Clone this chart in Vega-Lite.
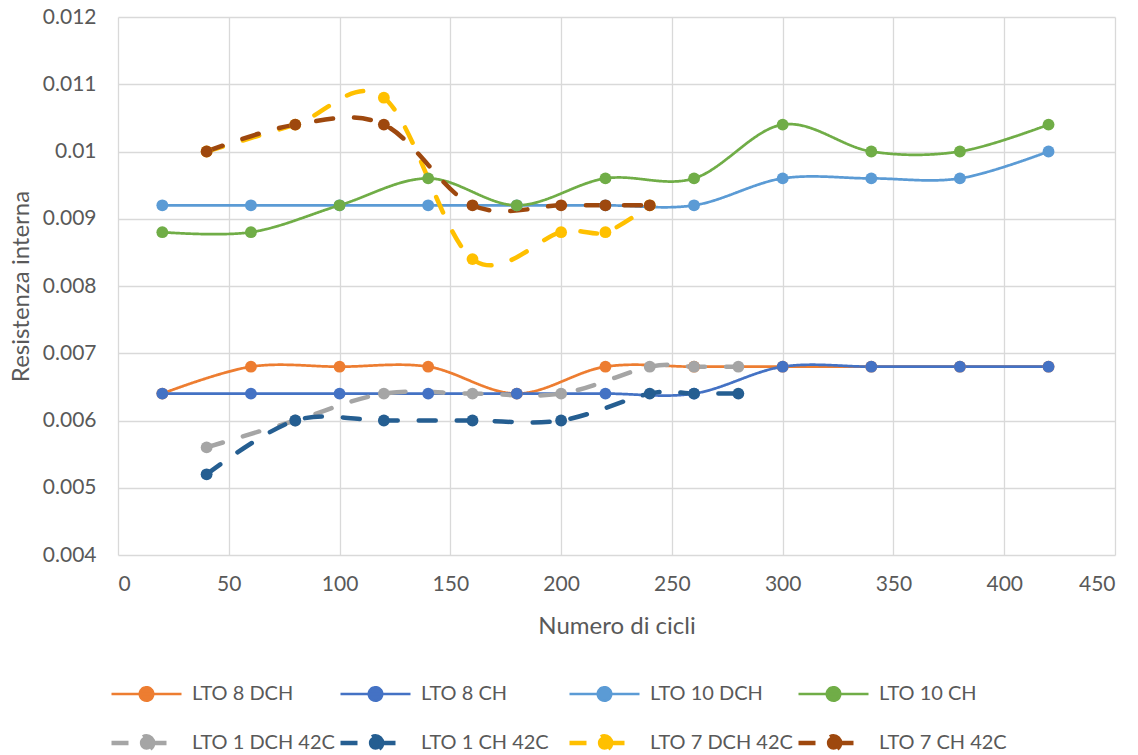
{
  "$schema": "https://vega.github.io/schema/vega-lite/v6.json",
  "autosize": "none",
  "width": 997,
  "height": 538,
  "padding": {"left": 118, "top": 17, "right": 23, "bottom": 200},
  "background": "white",
  "config": {
    "view": {"stroke": null},
    "font": "Lato",
    "axis": {
      "labelFont": "Lato",
      "titleFont": "Lato",
      "labelColor": "#595959",
      "titleColor": "#595959",
      "labelFontSize": 21,
      "titleFontSize": 24,
      "titleFontWeight": "normal",
      "gridColor": "#D9D9D9",
      "gridWidth": 1.3,
      "domain": false,
      "ticks": false,
      "labelPadding": 18
    },
    "legend": {
      "labelFont": "Lato",
      "labelFontSize": 20,
      "labelColor": "#595959"
    }
  },
  "data": {
    "values": [
      {"series": "LTO 8 DCH", "cicli": 20, "resistenza": 0.0064},
      {"series": "LTO 8 DCH", "cicli": 60, "resistenza": 0.0068},
      {"series": "LTO 8 DCH", "cicli": 100, "resistenza": 0.0068},
      {"series": "LTO 8 DCH", "cicli": 140, "resistenza": 0.0068},
      {"series": "LTO 8 DCH", "cicli": 180, "resistenza": 0.0064},
      {"series": "LTO 8 DCH", "cicli": 220, "resistenza": 0.0068},
      {"series": "LTO 8 DCH", "cicli": 260, "resistenza": 0.0068},
      {"series": "LTO 8 DCH", "cicli": 300, "resistenza": 0.0068},
      {"series": "LTO 8 DCH", "cicli": 340, "resistenza": 0.0068},
      {"series": "LTO 8 DCH", "cicli": 380, "resistenza": 0.0068},
      {"series": "LTO 8 DCH", "cicli": 420, "resistenza": 0.0068},

      {"series": "LTO 8 CH", "cicli": 20, "resistenza": 0.0064},
      {"series": "LTO 8 CH", "cicli": 60, "resistenza": 0.0064},
      {"series": "LTO 8 CH", "cicli": 100, "resistenza": 0.0064},
      {"series": "LTO 8 CH", "cicli": 140, "resistenza": 0.0064},
      {"series": "LTO 8 CH", "cicli": 180, "resistenza": 0.0064},
      {"series": "LTO 8 CH", "cicli": 220, "resistenza": 0.0064},
      {"series": "LTO 8 CH", "cicli": 260, "resistenza": 0.0064},
      {"series": "LTO 8 CH", "cicli": 300, "resistenza": 0.0068},
      {"series": "LTO 8 CH", "cicli": 340, "resistenza": 0.0068},
      {"series": "LTO 8 CH", "cicli": 380, "resistenza": 0.0068},
      {"series": "LTO 8 CH", "cicli": 420, "resistenza": 0.0068},

      {"series": "LTO 10 DCH", "cicli": 20, "resistenza": 0.0092},
      {"series": "LTO 10 DCH", "cicli": 60, "resistenza": 0.0092},
      {"series": "LTO 10 DCH", "cicli": 100, "resistenza": 0.0092},
      {"series": "LTO 10 DCH", "cicli": 140, "resistenza": 0.0092},
      {"series": "LTO 10 DCH", "cicli": 180, "resistenza": 0.0092},
      {"series": "LTO 10 DCH", "cicli": 220, "resistenza": 0.0092},
      {"series": "LTO 10 DCH", "cicli": 260, "resistenza": 0.0092},
      {"series": "LTO 10 DCH", "cicli": 300, "resistenza": 0.0096},
      {"series": "LTO 10 DCH", "cicli": 340, "resistenza": 0.0096},
      {"series": "LTO 10 DCH", "cicli": 380, "resistenza": 0.0096},
      {"series": "LTO 10 DCH", "cicli": 420, "resistenza": 0.0100},

      {"series": "LTO 10 CH", "cicli": 20, "resistenza": 0.0088},
      {"series": "LTO 10 CH", "cicli": 60, "resistenza": 0.0088},
      {"series": "LTO 10 CH", "cicli": 100, "resistenza": 0.0092},
      {"series": "LTO 10 CH", "cicli": 140, "resistenza": 0.0096},
      {"series": "LTO 10 CH", "cicli": 180, "resistenza": 0.0092},
      {"series": "LTO 10 CH", "cicli": 220, "resistenza": 0.0096},
      {"series": "LTO 10 CH", "cicli": 260, "resistenza": 0.0096},
      {"series": "LTO 10 CH", "cicli": 300, "resistenza": 0.0104},
      {"series": "LTO 10 CH", "cicli": 340, "resistenza": 0.0100},
      {"series": "LTO 10 CH", "cicli": 380, "resistenza": 0.0100},
      {"series": "LTO 10 CH", "cicli": 420, "resistenza": 0.0104},

      {"series": "LTO 1 DCH 42C", "cicli": 40, "resistenza": 0.0056},
      {"series": "LTO 1 DCH 42C", "cicli": 80, "resistenza": 0.0060},
      {"series": "LTO 1 DCH 42C", "cicli": 120, "resistenza": 0.0064},
      {"series": "LTO 1 DCH 42C", "cicli": 160, "resistenza": 0.0064},
      {"series": "LTO 1 DCH 42C", "cicli": 200, "resistenza": 0.0064},
      {"series": "LTO 1 DCH 42C", "cicli": 240, "resistenza": 0.0068},
      {"series": "LTO 1 DCH 42C", "cicli": 260, "resistenza": 0.0068},
      {"series": "LTO 1 DCH 42C", "cicli": 280, "resistenza": 0.0068},

      {"series": "LTO 1 CH 42C", "cicli": 40, "resistenza": 0.0052},
      {"series": "LTO 1 CH 42C", "cicli": 80, "resistenza": 0.0060},
      {"series": "LTO 1 CH 42C", "cicli": 120, "resistenza": 0.0060},
      {"series": "LTO 1 CH 42C", "cicli": 160, "resistenza": 0.0060},
      {"series": "LTO 1 CH 42C", "cicli": 200, "resistenza": 0.0060},
      {"series": "LTO 1 CH 42C", "cicli": 240, "resistenza": 0.0064},
      {"series": "LTO 1 CH 42C", "cicli": 260, "resistenza": 0.0064},
      {"series": "LTO 1 CH 42C", "cicli": 280, "resistenza": 0.0064},

      {"series": "LTO 7 DCH 42C", "cicli": 40, "resistenza": 0.0100},
      {"series": "LTO 7 DCH 42C", "cicli": 80, "resistenza": 0.0104},
      {"series": "LTO 7 DCH 42C", "cicli": 120, "resistenza": 0.0108},
      {"series": "LTO 7 DCH 42C", "cicli": 160, "resistenza": 0.0084},
      {"series": "LTO 7 DCH 42C", "cicli": 200, "resistenza": 0.0088},
      {"series": "LTO 7 DCH 42C", "cicli": 220, "resistenza": 0.0088},
      {"series": "LTO 7 DCH 42C", "cicli": 240, "resistenza": 0.0092},

      {"series": "LTO 7 CH 42C", "cicli": 40, "resistenza": 0.0100},
      {"series": "LTO 7 CH 42C", "cicli": 80, "resistenza": 0.0104},
      {"series": "LTO 7 CH 42C", "cicli": 120, "resistenza": 0.0104},
      {"series": "LTO 7 CH 42C", "cicli": 160, "resistenza": 0.0092},
      {"series": "LTO 7 CH 42C", "cicli": 200, "resistenza": 0.0092},
      {"series": "LTO 7 CH 42C", "cicli": 220, "resistenza": 0.0092},
      {"series": "LTO 7 CH 42C", "cicli": 240, "resistenza": 0.0092}
    ]
  },
  "encoding": {
    "x": {
      "field": "cicli",
      "type": "quantitative",
      "title": "Numero di cicli",
      "scale": {"domain": [0, 450], "nice": false},
      "axis": {"values": [0, 50, 100, 150, 200, 250, 300, 350, 400, 450], "titlePadding": 20}
    },
    "y": {
      "field": "resistenza",
      "type": "quantitative",
      "title": "Resistenza interna",
      "scale": {"domain": [0.004, 0.012], "nice": false, "zero": false},
      "axis": {
        "values": [0.004, 0.005, 0.006, 0.007, 0.008, 0.009, 0.010, 0.011, 0.012],
        "format": ".3~f",
        "labelPadding": 22,
        "titlePadding": 9
      }
    },
    "color": {
      "field": "series",
      "type": "nominal",
      "scale": {
        "domain": ["LTO 8 DCH", "LTO 8 CH", "LTO 10 DCH", "LTO 10 CH", "LTO 1 DCH 42C", "LTO 1 CH 42C", "LTO 7 DCH 42C", "LTO 7 CH 42C"],
        "range": ["#ED7D31", "#4472C4", "#5B9BD5", "#70AD47", "#A5A5A5", "#255E91", "#FFC000", "#9E480E"]
      },
      "legend": {
        "title": null,
        "orient": "none",
        "legendX": -9,
        "legendY": 663,
        "direction": "horizontal",
        "columns": 4,
        "gridAlign": "all",
        "columnPadding": 3,
        "rowPadding": 21,
        "clipHeight": 28,
        "symbolType": "M-1,0H1M0,-0.19A0.19,0.19 0 1,1 0,0.19A0.19,0.19 0 1,1 0,-0.19Z",
        "symbolSize": 4900,
        "symbolStrokeWidth": 3.5,
        "labelOffset": 8,
        "encode": {
          "symbols": {"update": {"fill": {"scale": "color", "field": "value"}}}
        }
      }
    }
  },
  "layer": [
    {
      "mark": {"type": "line", "interpolate": "cardinal", "strokeCap": "round"},
      "encoding": {
        "strokeDash": {
          "field": "series",
          "type": "nominal",
          "scale": {
            "domain": ["LTO 8 DCH", "LTO 8 CH", "LTO 10 DCH", "LTO 10 CH", "LTO 1 DCH 42C", "LTO 1 CH 42C", "LTO 7 DCH 42C", "LTO 7 CH 42C"],
            "range": [[1, 0], [1, 0], [1, 0], [1, 0], [17, 21], [17, 21], [17, 21], [17, 21]]
          }
        },
        "strokeWidth": {
          "field": "series",
          "type": "nominal",
          "scale": {
            "type": "ordinal",
            "domain": ["LTO 8 DCH", "LTO 8 CH", "LTO 10 DCH", "LTO 10 CH", "LTO 1 DCH 42C", "LTO 1 CH 42C", "LTO 7 DCH 42C", "LTO 7 CH 42C"],
            "range": [2.7, 2.7, 2.7, 2.7, 4.5, 4.5, 4.5, 4.5]
          },
          "legend": null
        }
      }
    },
    {
      "mark": {"type": "point", "filled": true, "opacity": 1, "size": 140, "shape": "circle"}
    }
  ]
}
